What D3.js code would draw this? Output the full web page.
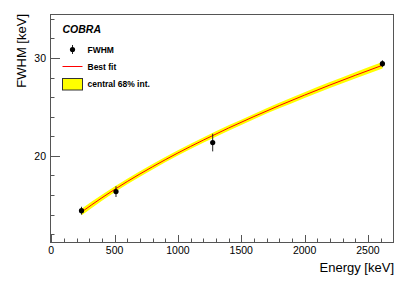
<!DOCTYPE html>
<html>
<head>
<meta charset="utf-8">
<script src="https://cdn.jsdelivr.net/npm/d3@7"></script>
<style>
	body { margin: 0; background: #fff; }
	svg { display: block; font-family: "Liberation Sans", Arial, sans-serif; }
	.frame { fill: none; stroke: #555; stroke-width: 1; }
	.tick { stroke: #555; stroke-width: 1; }
	.ticklabel { font-size: 10.5px; fill: #000; }
	.title { font-size: 13px; fill: #000; }
	.legend text { font-size: 8.5px; font-weight: bold; }
</style>
</head>
<body>
<div id="chart"></div>
<script>

	// measured peaks
	const energies = [ 238.6, 511, 1274.5, 2614.5 ];
	const fwhm = [ 14.40, 16.35, 21.36, 29.42 ];
	const fwhmErr = [ 0.40, 0.55, 0.90, 0.35 ];

	// best fit curve
	const fitEnergies = [ 240, 400, 600, 800, 1000, 1200, 1400, 1600, 1800, 2000, 2200, 2400, 2615 ];
	const fitFwhm = [ 14.27, 15.72, 17.38, 18.89, 20.30, 21.61, 22.85, 24.02, 25.14, 26.21, 27.24, 28.23, 29.26 ];
	// half width of central 68% band
	const bandHalf = [ 0.34, 0.31, 0.29, 0.28, 0.27, 0.27, 0.27, 0.27, 0.28, 0.29, 0.30, 0.32, 0.34 ];

	const xMajor = [ 0, 500, 1000, 1500, 2000, 2500 ];
	const xMinor = d3.range(0, 2701, 100);
	const yMajor = [ 20, 30 ];
	const yMinor = d3.range(12, 35, 2);

	const width = 415;
	const height = 289;
	const frame = { left: 50, top: 14, right: 394, bottom: 242 };

	const svg = d3.select("#chart")
					.append("svg")
						.attr("width", width)
						.attr("height", height);

	const x = d3.scaleLinear()
				.domain([-10, 2706])
				.range([frame.left, frame.right]);

	const y = d3.scaleLinear()
				.domain([11.2, 34.5])
				.range([frame.bottom, frame.top]);

	const fit = fitEnergies.map((e, i) => ({ e: e, f: fitFwhm[i], h: bandHalf[i] }));

	// band
	svg.append("path")
		.datum(fit)
		.attr("fill", "#ffff00")
		.attr("d", d3.area()
					.curve(d3.curveMonotoneX)
					.x((d) => x(d.e))
					.y0((d) => y(d.f - d.h))
					.y1((d) => y(d.f + d.h)));

	// best fit
	svg.append("path")
		.datum(fit)
		.attr("fill", "none")
		.attr("stroke", "#ff0000")
		.attr("stroke-width", 1)
		.attr("d", d3.line()
					.curve(d3.curveMonotoneX)
					.x((d) => x(d.e))
					.y((d) => y(d.f)));

	// data points
	const points = svg.append("g")
						.selectAll("g")
							.data(energies).enter()
						.append("g");

	points.append("line")
			.attr("x1", (d) => x(d))
			.attr("x2", (d) => x(d))
			.attr("y1", (d, i) => y(fwhm[i] - fwhmErr[i]))
			.attr("y2", (d, i) => y(fwhm[i] + fwhmErr[i]))
			.attr("stroke", "#222")
			.attr("stroke-width", 1);

	points.append("circle")
			.attr("cx", (d) => x(d))
			.attr("cy", (d, i) => y(fwhm[i]))
			.attr("r", 2.6)
			.attr("fill", "#000");

	// frame
	svg.append("rect")
		.attr("class", "frame")
		.attr("x", frame.left + 0.5)
		.attr("y", frame.top + 0.5)
		.attr("width", frame.right - frame.left - 1)
		.attr("height", frame.bottom - frame.top);

	// x ticks
	const xt = svg.append("g");
	xt.selectAll(".minor")
		.data(xMinor).enter()
		.append("line")
			.attr("class", "tick")
			.attr("x1", (d) => Math.round(x(d)) + 0.5)
			.attr("x2", (d) => Math.round(x(d)) + 0.5)
			.attr("y1", frame.bottom)
			.attr("y2", (d) => frame.bottom - (d % 500 === 0 ? 7 : 3.5));

	xt.selectAll("text")
		.data(xMajor).enter()
		.append("text")
			.attr("class", "ticklabel")
			.attr("x", (d) => x(d))
			.attr("y", 253.5)
			.attr("text-anchor", "middle")
			.text((d) => d);

	// y ticks
	const yt = svg.append("g");
	yt.selectAll(".minor")
		.data(yMinor).enter()
		.append("line")
			.attr("class", "tick")
			.attr("x1", frame.left)
			.attr("x2", (d) => frame.left + (d % 10 === 0 ? 10 : 4.5))
			.attr("y1", (d) => Math.round(y(d)) + 0.5)
			.attr("y2", (d) => Math.round(y(d)) + 0.5);

	yt.selectAll("text")
		.data(yMajor).enter()
		.append("text")
			.attr("class", "ticklabel")
			.attr("x", 46)
			.attr("y", (d) => y(d))
			.attr("dy", "0.36em")
			.attr("text-anchor", "end")
			.text((d) => d);

	// axis titles
	svg.append("text")
		.attr("class", "title")
		.attr("x", frame.right)
		.attr("y", 272)
		.attr("text-anchor", "end")
		.text("Energy [keV]");

	svg.append("text")
		.attr("class", "title")
		.attr("transform", `translate(25.5, ${frame.top}) rotate(-90)`)
		.attr("text-anchor", "end")
		.text("FWHM [keV]");

	// legend
	svg.append("text")
		.attr("x", 62.5)
		.attr("y", 32.5)
		.attr("font-size", "10.5px")
		.attr("font-weight", "bold")
		.attr("font-style", "italic")
		.text("COBRA");

	const legend = svg.append("g").attr("class", "legend");

	legend.append("line")
		.attr("x1", 72.5).attr("x2", 72.5)
		.attr("y1", 45).attr("y2", 54)
		.attr("stroke", "#222");
	legend.append("circle")
		.attr("cx", 72.5).attr("cy", 49.5)
		.attr("r", 2.6)
		.attr("fill", "#000");
	legend.append("text")
		.attr("x", 87.5).attr("y", 52.5)
		.text("FWHM");

	legend.append("line")
		.attr("x1", 62.5).attr("x2", 82.5)
		.attr("y1", 66.5).attr("y2", 66.5)
		.attr("stroke", "#ff0000");
	legend.append("text")
		.attr("x", 87.5).attr("y", 69.5)
		.text("Best fit");

	legend.append("rect")
		.attr("x", 62.5).attr("y", 78.5)
		.attr("width", 20).attr("height", 11.5)
		.attr("fill", "#ffff00")
		.attr("stroke", "#333")
		.attr("stroke-width", 1);
	legend.append("text")
		.attr("x", 87.5).attr("y", 87)
		.text("central 68% int.");

</script>
</body>
</html>
